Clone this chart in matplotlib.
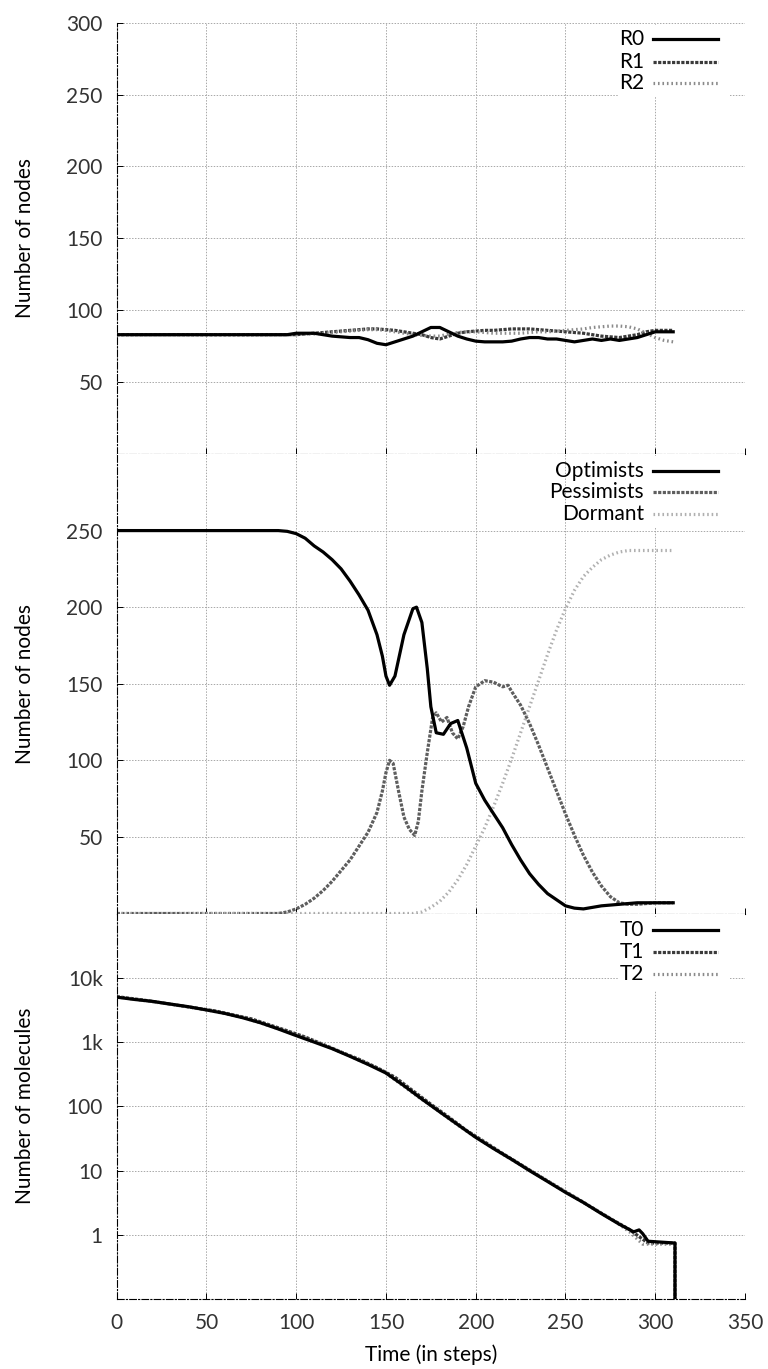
import matplotlib
matplotlib.use("Agg")
import matplotlib.pyplot as plt
from matplotlib.patches import Rectangle
from matplotlib.lines import Line2D

plt.rcParams['font.family'] = ['Lato', 'DejaVu Sans']

# ---------------- data ----------------
# Panel 1: R0, R1, R2 (number of nodes)
t_r = [0, 5, 10, 15, 20, 25, 30, 35, 40, 45, 50, 55, 60, 65, 70, 75, 80, 85, 90, 95,
       100, 105, 110, 115, 120, 125, 130, 135, 140, 145, 150, 155, 160, 165, 170, 175,
       180, 185, 190, 195, 200, 205, 210, 215, 220, 225, 230, 235, 240, 245, 250, 255,
       260, 265, 270, 275, 280, 285, 290, 295, 300, 305, 310]
r0 = [83]*20 + [84, 84, 84, 83, 82, 81.5, 81, 81, 79.5, 77, 76, 78, 80, 82, 85, 88,
                88, 85, 82, 80, 78.5, 78, 78, 78, 78.5, 80, 81, 81, 80, 80, 79, 78,
                79, 80, 79, 80, 79, 80, 81, 83, 85, 85, 85]
r1 = [83]*20 + [83, 83.5, 84, 84.5, 85, 85.5, 86, 86.5, 87, 87, 86.5, 86, 85, 84, 83, 81,
                80, 82, 84, 85, 85.5, 86, 86, 86.5, 87, 87, 87, 86.5, 86, 85.5, 85, 84.5,
                84, 83, 82, 81.5, 81, 82, 83, 85, 86, 86, 86]
r2 = [83]*20 + [83, 83.5, 83.5, 84, 84.5, 85, 85.5, 86, 86.5, 86.5, 86, 85, 84, 83, 82.5, 82,
                82, 83.5, 84.5, 85, 85, 84.5, 84, 84, 84, 84, 84.5, 85, 85, 85.5, 86, 86.5,
                87, 88, 88.5, 89, 89, 88.5, 87, 84, 81, 79, 78]

# Panel 2: Optimists, Pessimists, Dormant
t_opt = [0, 90, 95, 100, 105, 110, 115, 120, 125, 130, 135, 140, 145, 148, 150, 152, 155,
         160, 165, 167, 170, 173, 175, 178, 182, 186, 190, 195, 200, 205, 210, 215, 220,
         225, 230, 235, 240, 245, 250, 255, 260, 265, 270, 280, 290, 300, 310]
optimists = [250, 250, 249.5, 248, 245, 240, 236, 231, 225, 217, 208, 198, 182, 168, 155,
             149, 155, 182, 199, 200, 190, 160, 135, 118, 117, 124, 126, 108, 85, 74, 65,
             56, 45, 35, 26, 19, 13, 9, 5, 3.5, 3, 4, 5, 6, 7, 7, 7]
t_pes = [0, 90, 95, 100, 105, 110, 115, 120, 125, 130, 135, 140, 145, 148, 150, 152, 154,
         157, 160, 163, 166, 168, 170, 173, 176, 178, 181, 184, 187, 190, 193, 196, 200,
         205, 210, 215, 218, 220, 225, 230, 235, 240, 245, 250, 255, 260, 265, 270, 275,
         280, 285, 290, 300, 310]
pessimists = [0, 0, 1, 3, 6, 10, 15, 21, 28, 35, 44, 53, 66, 80, 92, 100, 98, 80, 63, 55,
              51, 60, 80, 105, 128, 131, 125, 128, 118, 114, 122, 135, 148, 152, 151, 148,
              149, 145, 136, 124, 110, 95, 80, 65, 51, 38, 27, 18, 11, 7, 6, 6, 7, 7]
t_dor = [0, 165, 170, 175, 180, 185, 190, 195, 200, 205, 210, 215, 220, 225, 230, 235,
         240, 245, 250, 255, 260, 265, 270, 275, 280, 285, 290, 300, 310]
dormant = [0, 0, 1, 4, 8, 14, 22, 32, 44, 56, 70, 85, 101, 118, 135, 152, 169, 185, 199,
           211, 220, 226, 231, 234, 236, 237, 237, 237, 237]

# Panel 3: T0, T1, T2 (number of molecules, log scale)
t_t0 = [0, 10, 20, 30, 40, 50, 60, 70, 80, 90, 100, 110, 120, 130, 140, 150, 160, 170,
        180, 190, 200, 210, 220, 230, 240, 250, 260, 270, 280, 288, 291, 293, 296, 311, 311]
t0 = [5000, 4600, 4300, 3900, 3550, 3160, 2800, 2400, 2000, 1600, 1260, 1000, 790, 600,
      450, 330, 210, 130, 82, 52, 33, 22, 15, 10, 6.8, 4.6, 3.2, 2.15, 1.47, 1.12, 1.2,
      1.05, 0.8, 0.75, 0]
t_t1 = [0, 15, 35, 55, 75, 95, 105, 115, 125, 135, 145, 155, 165, 175, 185, 195, 205,
        215, 225, 235, 245, 255, 265, 275, 285, 292, 296, 311, 311]
t1 = [5100, 4500, 3700, 3050, 2300, 1500, 1200, 920, 700, 540, 400, 285, 175, 108, 68,
      42, 28, 18.5, 12.5, 8.4, 5.7, 3.9, 2.65, 1.8, 1.25, 0.9, 0.75, 0.75, 0]
t_t2 = [0, 12, 32, 52, 72, 92, 108, 118, 128, 138, 148, 158, 168, 178, 188, 198, 208,
        218, 228, 238, 248, 258, 268, 278, 286, 293, 297, 311, 311]
t2 = [5050, 4550, 3800, 3100, 2350, 1550, 1080, 850, 640, 480, 360, 225, 140, 90, 56,
      36, 24, 16, 11, 7.5, 5.1, 3.5, 2.35, 1.6, 1.1, 0.72, 0.72, 0.72, 0]

x_ticks = [0, 50, 100, 150, 200, 250, 300, 350]

# ---------------- figure ----------------
W, H = 768, 1369
fig = plt.figure(figsize=(W / 100, H / 100), dpi=100)

left = 116.7 / W
width = 628.3 / W


def panel(top_px, bot_px):
    return fig.add_axes([left, 1 - bot_px / H, width, (bot_px - top_px) / H])


ax1 = panel(22.7, 454.0)
ax2 = panel(454.0, 913.5)
ax3 = panel(913.5, 1299.3)

grid_kw = dict(color='#a8a8a8', linestyle=(0, (1.5, 1.5)), linewidth=0.7)
spine_ls = (0, (6, 2, 1, 2))
TICK_FS = 15

for ax in (ax1, ax2, ax3):
    ax.set_xlim(0, 350)
    ax.set_xticks(x_ticks)
    ax.grid(True, which='major', **grid_kw)
    ax.set_axisbelow(True)
    for s in ('top', 'right'):
        ax.spines[s].set_visible(False)
    for s in ('left', 'bottom'):
        ax.spines[s].set_linestyle(spine_ls)
        ax.spines[s].set_linewidth(0.8)
        ax.spines[s].set_color('black')
        ax.spines[s].set_zorder(5)
    ax.tick_params(direction='in', length=4, width=0.7, color='black',
                   labelsize=TICK_FS, labelcolor='#333333', pad=10)
    ax.minorticks_off()

ax1.tick_params(labelbottom=False)
ax2.tick_params(labelbottom=False)

# Panel 1
ax1.set_ylim(0, 300)
ax1.set_yticks([50, 100, 150, 200, 250, 300])
ax1.plot(t_r, r0, color='black', lw=2.3, solid_joinstyle='round', zorder=4)
ax1.plot(t_r, r1, color='#3a3a3a', lw=2.3, linestyle=(0, (1.0, 0.45)), zorder=3)
ax1.plot(t_r, r2, color='#8a8a8a', lw=2.3, linestyle=(0, (0.5, 0.9)), zorder=3)

# Panel 2
ax2.set_ylim(0, 300)
ax2.set_yticks([50, 100, 150, 200, 250])
ax2.plot(t_opt, optimists, color='black', lw=2.3, zorder=4)
ax2.plot(t_pes, pessimists, color='#5e5e5e', lw=2.3, linestyle=(0, (1.0, 0.45)), zorder=3)
ax2.plot(t_dor, dormant, color='#b0b0b0', lw=2.3, linestyle=(0, (0.5, 0.9)), zorder=3)

# Panel 3
ax3.set_yscale('log', nonpositive='clip')
ax3.set_ylim(0.1, 1e5)
ax3.set_yticks([1, 10, 100, 1000, 10000])
ax3.set_yticklabels(['1', '10', '100', '1k', '10k'])
ax3.minorticks_off()
ax3.plot(t_t0, t0, color='black', lw=2.3, zorder=4)
ax3.plot(t_t1, t1, color='#3a3a3a', lw=2.3, linestyle=(0, (1.0, 0.45)), zorder=3)
ax3.plot(t_t2, t2, color='#8a8a8a', lw=2.3, linestyle=(0, (0.5, 0.9)), zorder=3)


def key(ax, names, styles, rows, box):
    x0, y0, x1, y1 = box
    ax.add_patch(Rectangle((x0, y0), x1 - x0, y1 - y0, transform=ax.transAxes,
                           facecolor='white', edgecolor='none', zorder=2))
    for name, st, yy in zip(names, styles, rows):
        ax.text(0.839, yy, name, transform=ax.transAxes, ha='right', va='center',
                fontsize=TICK_FS, color='black', zorder=6)
        ax.add_line(Line2D([0.8533, 0.9569], [yy, yy], transform=ax.transAxes,
                           zorder=6, **st))


st_solid = dict(color='black', lw=2.3)
st_dark = dict(color='#3a3a3a', lw=2.3, linestyle=(0, (1.0, 0.45)))
st_light = dict(color='#8a8a8a', lw=2.3, linestyle=(0, (0.5, 0.9)))
st_pes = dict(color='#5e5e5e', lw=2.3, linestyle=(0, (1.0, 0.45)))
st_dor = dict(color='#b0b0b0', lw=2.3, linestyle=(0, (0.5, 0.9)))

key(ax1, ['R0', 'R1', 'R2'], [st_solid, st_dark, st_light],
    [0.962, 0.910, 0.860], (0.798, 0.828, 0.976, 0.995))
key(ax2, ['Optimists', 'Pessimists', 'Dormant'], [st_solid, st_pes, st_dor],
    [0.9637, 0.9173, 0.8694], (0.798, 0.841, 0.976, 0.996))
key(ax3, ['T0', 'T1', 'T2'], [st_solid, st_dark, st_light],
    [0.957, 0.899, 0.842], (0.798, 0.80, 0.976, 0.991))

# Axis labels
fig.text(431 / W, 1 - 1355 / H, 'Time (in steps)', ha='center', va='center',
         fontsize=TICK_FS, color='black')
fig.text(25 / W, 1 - 238 / H, 'Number of nodes', rotation=90, ha='center',
         va='center', fontsize=TICK_FS, color='black')
fig.text(25 / W, 1 - 684 / H, 'Number of nodes', rotation=90, ha='center',
         va='center', fontsize=TICK_FS, color='black')
fig.text(25 / W, 1 - 1106 / H, 'Number of molecules', rotation=90, ha='center',
         va='center', fontsize=TICK_FS, color='black')

fig.savefig('out.png', dpi=100)
